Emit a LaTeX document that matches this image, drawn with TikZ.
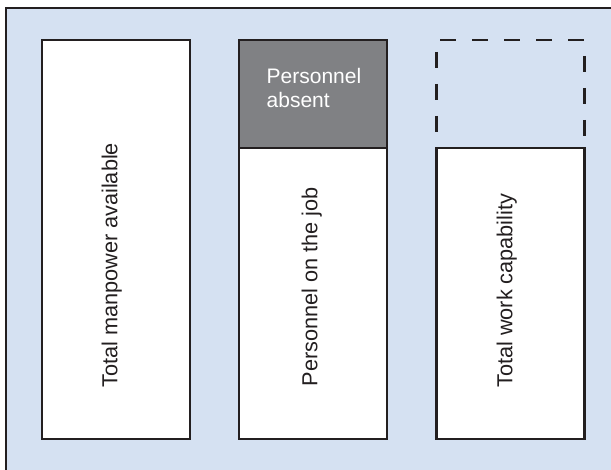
\documentclass[tikz,border=0pt]{standalone}
\usepackage{fontspec}
\setmainfont{Liberation Sans}
\definecolor{bgblue}{HTML}{D5E1F2}
\definecolor{absgray}{HTML}{808184}
\definecolor{ink}{HTML}{231F20}
\begin{document}
\begin{tikzpicture}[x=1pt,y=-1pt,
  box/.style={draw=ink, line width=2.4pt, fill=white, rectangle, inner sep=0pt, minimum width=148pt},
  lbl/.style={font=\fontsize{21.7}{24}\selectfont, text=ink, rotate=90, anchor=base west, inner sep=0pt},
  dashline/.style={draw=ink, line width=2.2pt, dash pattern=on 16pt off 16pt}]
\useasboundingbox (0,0) rectangle (611,470);
\fill[white] (0,0) rectangle (611,470);
\fill[bgblue] (6,8) rectangle (611,470);
\draw[ink, line width=2.2pt] (6,471) -- (6,8) -- (612,8);
% column 1
\node[box, minimum height=399pt] (total) at (116,239.5) {};
% column 2
\node[box, fill=absgray, minimum height=108pt] (absent) at (313,94) {};
\node[box, minimum height=291pt] (onjob) at (313,293.5) {};
% column 3
\node[box, minimum height=291pt] (capab) at (510.5,293.5) {};
\coordinate (d1) at (440,40);
\coordinate (d2) at (584,40);
\coordinate (d3) at (436.5,52);
\coordinate (d4) at (436.5,148);
\coordinate (d5) at (584.5,56);
\coordinate (d6) at (584.5,148);
\draw[dashline] (d1) -- (d2);
\draw[dashline] (d3) -- (d4);
\draw[dashline] (d5) -- (d6);
% labels
\node[lbl] (t1) at (117.3,388) {Total manpower available};
\node[lbl] (t2) at (317.3,386.5) {Personnel on the job};
\node[lbl] (t3) at (512.3,388) {Total work capability};
\node[font=\fontsize{21}{24}\selectfont, text=white, align=left, anchor=north west, inner sep=0pt] (t4) at (266.5,67.7) {Personnel\\absent};
\end{tikzpicture}
\end{document}
